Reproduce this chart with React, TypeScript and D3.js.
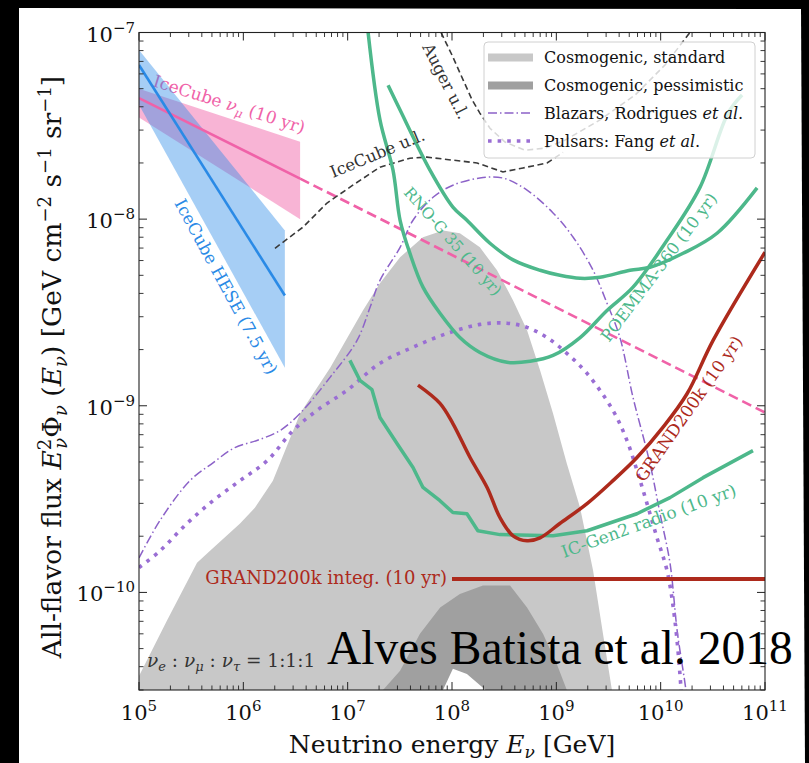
import React from "react";
import * as d3 from "d3";

type P = [number, number];

// ---------- data (E [GeV], E^2 Phi [GeV cm^-2 s^-1 sr^-1]) ----------
const cosmoStandard: P[] = [
  [1.0e5, 3.57e-11], [1.85e5, 7.05e-11], [3.6e5, 1.44e-10], [4.8e5, 1.67e-10],
  [9.3e5, 2.34e-10], [1.29e6, 2.84e-10], [1.92e6, 3.97e-10], [3.5e6, 9.1e-10],
  [6.8e6, 1.6e-9], [1.4e7, 3.24e-9], [2.04e7, 4.53e-9], [3.18e7, 6.25e-9],
  [5.27e7, 8.0e-9], [8.2e7, 8.7e-9], [1.19e8, 8.4e-9], [1.85e8, 7.06e-9],
  [2.7e8, 5.32e-9], [3.85e8, 3.67e-9], [5.24e8, 2.54e-9], [6.98e8, 1.55e-9],
  [9.3e8, 9.1e-10], [1.26e9, 4.9e-10], [1.69e9, 2.84e-10], [2.25e9, 1.31e-10],
  [2.8e9, 6.0e-11], [3.42e9, 2.97e-11],
];
const cosmoPessimistic: P[] = [
  [2.18e7, 3.0e-11], [3.18e7, 3.8e-11], [4.93e7, 6.0e-11], [7.7e7, 8.3e-11],
  [1.19e8, 9.8e-11], [1.98e8, 1.09e-10], [3.6e8, 1.09e-10], [5.24e8, 8.3e-11],
  [7.45e8, 6.0e-11], [1.01e9, 4.14e-11], [1.26e9, 3.0e-11],
];
const cosmoLowerBound: P[] = [
  [8.2e7, 3.0e-11], [1.02e8, 3.9e-11], [1.39e8, 3.66e-11], [1.98e8, 3.08e-11], [2.1e8, 3.0e-11],
];

const heseFit: P[] = [[1e5, 6.7e-8], [2.5e6, 3.9e-9]];
const heseUpper: P[] = [[1e5, 8.05e-8], [2.5e6, 8.7e-9]];
const heseLower: P[] = [[1e5, 4.1e-8], [2.5e6, 1.6e-9]];

const numuFit: P[] = [[1e5, 4.45e-8], [3.5e6, 1.65e-8]];
const numuExtrap: P[] = [[3.5e6, 1.65e-8], [1e11, 9.2e-10]];
const numuUpper: P[] = [[1e5, 5.0e-8], [3.5e6, 2.6e-8]];
const numuLower: P[] = [[1e5, 3.5e-8], [3.5e6, 1.0e-8]];

const icecubeUL: P[] = [
  [2.01e6, 6.98e-9], [3.73e6, 9.06e-9], [6.34e6, 1.22e-8], [1.12e7, 1.52e-8],
  [2.04e7, 1.9e-8], [3.95e7, 2.12e-8], [5.75e7, 2.15e-8], [1.02e8, 2.07e-8],
  [1.74e8, 2.0e-8], [3.08e8, 1.79e-8], [4.8e8, 1.88e-8], [8.15e8, 2.0e-8], [1.16e9, 2.28e-8],
];
const augerUL: P[] = [
  [7.85e7, 1.0e-7], [1.0e8, 7.57e-8], [1.28e8, 5.56e-8], [1.56e8, 4.35e-8],
  [1.85e8, 3.7e-8], [2.31e8, 3.07e-8], [3.22e8, 2.59e-8], [5.0e8, 2.34e-8],
  [7.78e8, 2.4e-8], [1.21e9, 2.65e-8], [2.62e9, 3.4e-8], [5.68e9, 4.62e-8],
  [1.1e10, 6.7e-8], [1.91e10, 1.0e-7],
];

const rnoG: P[] = [
  [2.44e7, 5.22e-8], [3.18e7, 3.84e-8], [6.15e7, 1.83e-8], [1.02e8, 1.16e-8],
  [1.39e8, 9.86e-9], [2.31e8, 7.43e-9], [3.85e8, 6.05e-9], [6.98e8, 5.32e-9],
  [1.08e9, 5.0e-9], [1.69e9, 4.82e-9], [2.62e9, 4.88e-9], [5.08e9, 5.32e-9],
  [7.9e9, 5.52e-9], [1.64e10, 6.56e-9], [3.47e10, 8.4e-9], [8.4e10, 1.47e-8],
];
const poemma: P[] = [
  [1.57e7, 1.0e-7], [2.04e7, 3.4e-8], [2.72e7, 1.83e-8], [3.18e7, 9.86e-9],
  [3.95e7, 6.56e-9], [5.27e7, 4.32e-9], [7.67e7, 3.13e-9], [1.19e8, 2.32e-9],
  [1.85e8, 1.93e-9], [3.37e8, 1.71e-9], [5.6e8, 1.73e-9], [9.3e8, 1.86e-9],
  [1.69e9, 2.32e-9], [3.06e9, 3.24e-9], [5.43e9, 4.32e-9], [1.15e10, 7.7e-9],
  [2.38e10, 1.48e-8], [4.43e10, 3.7e-8], [6.03e10, 4.62e-8],
];
const icGen2: P[] = [
  [1.05e7, 1.75e-9], [1.31e7, 1.37e-9], [1.71e7, 1.22e-9], [2.04e7, 8.65e-10],
  [2.97e7, 6.28e-10], [4.23e7, 4.67e-10], [5.27e7, 3.65e-10], [7.67e7, 3.1e-10],
  [1.02e8, 2.68e-10], [1.39e8, 2.64e-10], [1.77e8, 2.14e-10], [2.88e8, 2.04e-10],
  [9.3e8, 2.01e-10], [1.97e9, 2.14e-10], [5.93e9, 2.64e-10], [1.23e10, 3.22e-10],
  [2.55e10, 4.12e-10], [7.67e10, 5.75e-10],
];
const grand: P[] = [
  [4.72e7, 1.29e-9], [7.67e7, 1.03e-9], [1.02e8, 8.03e-10], [1.49e8, 5.28e-10],
  [2.17e8, 3.65e-10], [2.88e8, 2.52e-10], [3.85e8, 2.01e-10], [5.24e8, 1.89e-10],
  [6.98e8, 1.96e-10], [1.08e9, 2.34e-10], [1.97e9, 2.99e-10], [3.49e9, 3.97e-10],
  [5.93e9, 5.28e-10], [1.05e10, 7.66e-10], [1.79e10, 1.16e-9], [3.18e10, 2.24e-9],
  [1e11, 6.65e-9],
];
const grandInteg: P[] = [[1e8, 1.18e-10], [1e11, 1.18e-10]];

const blazars: P[] = [
  [1.0e5, 1.53e-10], [1.59e5, 2.43e-10], [3.08e5, 3.97e-10], [5.12e5, 4.95e-10],
  [8.3e5, 5.97e-10], [1.35e6, 6.52e-10], [2.24e6, 7.36e-10], [3.49e6, 9.1e-10],
  [6.78e6, 1.42e-9], [1.23e7, 2.24e-9], [1.64e7, 3.37e-9], [2.04e7, 4.7e-9],
  [3.18e7, 7.06e-9], [4.23e7, 9.86e-9], [6.58e7, 1.31e-8], [1.02e8, 1.52e-8],
  [1.85e8, 1.66e-8], [3.08e8, 1.66e-8], [5.24e8, 1.43e-8], [9.3e8, 1.08e-8],
  [1.45e9, 8.0e-9], [2.25e9, 5.32e-9], [3.06e9, 3.54e-9], [4.07e9, 2.32e-9],
  [5.43e9, 1.11e-9], [7.9e9, 4.9e-10], [9.86e9, 2.64e-10], [1.23e10, 1.43e-10],
  [1.44e10, 6.22e-11], [1.75e10, 2.97e-11], [1.85e10, 2.2e-11],
];
const pulsars: P[] = [
  [1.0e5, 1.36e-10], [1.59e5, 1.67e-10], [2.88e5, 2.34e-10], [5.12e5, 3.1e-10],
  [9.3e5, 3.97e-10], [1.69e6, 5.08e-10], [2.99e6, 7.36e-10], [5.08e6, 9.44e-10],
  [9.86e6, 1.21e-9], [2.04e7, 1.69e-9], [4.23e7, 2.06e-9], [8.95e7, 2.44e-9],
  [1.85e8, 2.73e-9], [3.37e8, 2.77e-9], [5.24e8, 2.63e-9], [8.15e8, 2.32e-9],
  [1.26e9, 1.91e-9], [1.97e9, 1.49e-9], [3.49e9, 9.44e-10], [4.75e9, 6.52e-10],
  [5.93e9, 4.5e-10], [7.4e9, 2.99e-10], [9.23e9, 1.96e-10], [1.15e10, 1.31e-10],
  [1.37e10, 7.05e-11], [1.57e10, 3.0e-11], [1.62e10, 2.2e-11],
];

const xTickExps = [5, 6, 7, 8, 9, 10, 11];
const yTickExps = [-10, -9, -8, -7];
const legendLabels = ["Cosmogenic, standard", "Cosmogenic, pessimistic", "Blazars, Rodrigues ", "Pulsars: Fang "];

// ---------- styles ----------
const C = {
  gray: "#c8c8c8",
  grayDark: "#a0a0a0",
  blue: "#2a8ae6",
  pink: "#f062a8",
  green: "#4db88b",
  red: "#ad2a1c",
  purple: "#8c62c8",
  purpleDot: "#9a6ed4",
  dash: "#3a3a3a",
};
const SERIF = "'DejaVu Serif', serif";

export default function App() {
  const W = 809, H = 763;
  const L = 139, R = 765, T = 32.5, B = 690;
  const x = d3.scaleLog().domain([1e5, 1e11]).range([L, R]);
  const y = d3.scaleLog().domain([3e-11, 1e-7]).range([B, T]);

  const line = d3.line<P>().x(d => x(d[0])).y(d => y(d[1]));
  const smooth = d3.line<P>().x(d => x(d[0])).y(d => y(d[1])).curve(d3.curveCatmullRom.alpha(0.5));
  const area = d3.area<P>().x(d => x(d[0])).y0(B).y1(d => y(d[1])).curve(d3.curveLinear);
  const band = (up: P[], lo: P[]) => (line(up.concat([...lo].reverse())) || "") + "Z";

  const xMinor = x.ticks().filter(v => !xTickExps.some(e => Math.abs(v - Math.pow(10, e)) / v < 1e-6));
  const yMinor = y.ticks().filter(v => !yTickExps.some(e => Math.abs(v - Math.pow(10, e)) / v < 1e-6));

  const lab = (px: number, py: number, a: number) => `translate(${px},${py}) rotate(${a})`;

  return (
    <svg width={W} height={H} style={{ position: "absolute", left: 0, top: 0, display: "block" }}
      xmlns="http://www.w3.org/2000/svg">
      <rect x={0} y={0} width={W} height={H} fill="#000" />
      <polygon points="19,8 801,9 805,763 19,763" fill="#fff" />
      <defs>
        <clipPath id="plotclip">
          <rect x={L} y={T} width={R - L} height={B - T} />
        </clipPath>
      </defs>

      <g clipPath="url(#plotclip)">
        <path d={area(cosmoStandard) || ""} fill={C.gray} />
        <path d={area(cosmoPessimistic) || ""} fill={C.grayDark} />
        <path d={area(cosmoLowerBound) || ""} fill="#fff" />

        {/* IceCube numu band + label (under HESE band) */}
        <path d={band(numuUpper, numuLower)} fill={C.pink} fillOpacity={0.48} />
        <text transform={lab(152, 86, 17.5)} fontFamily={SERIF} fontSize={17} fill={C.pink}>
          IceCube <tspan fontStyle="italic">ν</tspan><tspan fontSize={12} fontStyle="italic" dy={4}>μ</tspan><tspan dy={-4}> (10 yr)</tspan>
        </text>
        <path d={band(heseUpper, heseLower)} fill={C.blue} fillOpacity={0.42} />

        <path d={line(numuFit) || ""} fill="none" stroke={C.pink} strokeWidth={2.6} />
        <path d={line(numuExtrap) || ""} fill="none" stroke={C.pink} strokeWidth={2.6} strokeDasharray="10,5" />
        <path d={line(heseFit) || ""} fill="none" stroke={C.blue} strokeWidth={2.6} />

        <path d={line(icecubeUL) || ""} fill="none" stroke={C.dash} strokeWidth={1.6} strokeDasharray="6,3.5" />
        <path d={line(augerUL) || ""} fill="none" stroke={C.dash} strokeWidth={1.6} strokeDasharray="6,3.5" />

        <path d={smooth(blazars) || ""} fill="none" stroke={C.purple} strokeWidth={1.5} strokeDasharray="9,3,1.5,3" />
        <path d={smooth(pulsars) || ""} fill="none" stroke={C.purpleDot} strokeWidth={3.6} strokeDasharray="3.6,6" />

        <path d={smooth(rnoG) || ""} fill="none" stroke={C.green} strokeWidth={3.5} strokeLinejoin="round" />
        <path d={smooth(poemma) || ""} fill="none" stroke={C.green} strokeWidth={3.5} strokeLinejoin="round" />
        <path d={line(icGen2) || ""} fill="none" stroke={C.green} strokeWidth={3.5} strokeLinejoin="round" />
        <path d={smooth(grand) || ""} fill="none" stroke={C.red} strokeWidth={3.5} strokeLinejoin="round" />
        <path d={line(grandInteg) || ""} fill="none" stroke={C.red} strokeWidth={4} />
      </g>

      {/* curve labels */}
      <text transform={lab(174, 203, 61.5)} fontFamily={SERIF} fontSize={17} fill={C.blue}>IceCube HESE (7.5 yr)</text>
      <text transform={lab(333, 178, -22.5)} fontFamily={SERIF} fontSize={16.5} fill="#333">IceCube u.l.</text>
      <text transform={lab(422, 47, 63)} fontFamily={SERIF} fontSize={16.5} fill="#333">Auger u.l.</text>
      <text transform={lab(403, 193, 48.5)} fontFamily={SERIF} fontSize={15.5} fill={C.green}>RNO-G 35 (10 yr)</text>
      <text transform={lab(609, 343, -53)} fontFamily={SERIF} fontSize={16.5} fill={C.green}>POEMMA-360 (10 yr)</text>
      <text transform={lab(644, 483, -55)} fontFamily={SERIF} fontSize={17} fill={C.red}>GRAND200k (10 yr)</text>
      <text transform={lab(564, 558, -20)} fontFamily={SERIF} fontSize={17} fill={C.green}>IC-Gen2 radio (10 yr)</text>
      <text x={447} y={584} textAnchor="end" fontFamily={SERIF} fontSize={18} fill={C.red}>GRAND200k integ. (10 yr)</text>
      <text x={147} y={667} fontFamily={SERIF} fontSize={18.5} fill="#333">
        <tspan fontStyle="italic">ν</tspan><tspan fontSize={13} fontStyle="italic" dy={4}>e</tspan>
        <tspan dy={-4}> : </tspan><tspan fontStyle="italic">ν</tspan><tspan fontSize={13} fontStyle="italic" dy={4}>μ</tspan>
        <tspan dy={-4}> : </tspan><tspan fontStyle="italic">ν</tspan><tspan fontSize={13} fontStyle="italic" dy={4}>τ</tspan>
        <tspan dy={-4}> = 1:1:1</tspan>
      </text>

      {/* legend */}
      <g>
        <rect x={484} y={42} width={271} height={116} rx={4} fill="#fff" fillOpacity={0.8} stroke="#d0d0d0" strokeWidth={1} />
        <rect x={488} y={53.5} width={45} height={8} fill={C.gray} />
        <rect x={488} y={81.5} width={45} height={8} fill={C.grayDark} />
        <line x1={488} x2={533} y1={113} y2={113} stroke={C.purple} strokeWidth={1.5} strokeDasharray="9,3,1.5,3" />
        <line x1={488} x2={533} y1={141} y2={141} stroke={C.purpleDot} strokeWidth={3.6} strokeDasharray="3.6,6" />
        <text x={544} y={63} fontFamily={SERIF} fontSize={16} fill="#111">{legendLabels[0]}</text>
        <text x={544} y={91} fontFamily={SERIF} fontSize={16} fill="#111">{legendLabels[1]}</text>
        <text x={544} y={119} fontFamily={SERIF} fontSize={16} fill="#111">{legendLabels[2]}<tspan fontStyle="italic">et al</tspan>.</text>
        <text x={544} y={147} fontFamily={SERIF} fontSize={16} fill="#111">{legendLabels[3]}<tspan fontStyle="italic">et al</tspan>.</text>
      </g>

      {/* axes frame & ticks */}
      <rect x={L} y={T} width={R - L} height={B - T} fill="none" stroke="#222" strokeWidth={1.1} />
      {xTickExps.map(e => {
        const px = x(Math.pow(10, e));
        return (
          <g key={"xm" + e}>
            <line x1={px} x2={px} y1={B} y2={B - 8} stroke="#222" strokeWidth={1} />
            <line x1={px} x2={px} y1={T} y2={T + 8} stroke="#222" strokeWidth={1} />
            <text x={px} y={720} textAnchor="middle" fontFamily={SERIF} fontSize={21} fill="#111">
              10<tspan fontSize={15} dy={-9}>{e}</tspan>
            </text>
          </g>
        );
      })}
      {xMinor.map((v, i) => (
        <g key={"xn" + i}>
          <line x1={x(v)} x2={x(v)} y1={B} y2={B - 4.5} stroke="#222" strokeWidth={0.9} />
          <line x1={x(v)} x2={x(v)} y1={T} y2={T + 4.5} stroke="#222" strokeWidth={0.9} />
        </g>
      ))}
      {yTickExps.map(e => {
        const py = y(Math.pow(10, e));
        return (
          <g key={"ym" + e}>
            <line x1={L} x2={L + 8} y1={py} y2={py} stroke="#222" strokeWidth={1} />
            <line x1={R} x2={R - 8} y1={py} y2={py} stroke="#222" strokeWidth={1} />
            <text x={135} y={py + 9} textAnchor="end" fontFamily={SERIF} fontSize={21} fill="#111">
              10<tspan fontSize={15} dy={-9}>{"−" + Math.abs(e)}</tspan>
            </text>
          </g>
        );
      })}
      {yMinor.map((v, i) => (
        <g key={"yn" + i}>
          <line x1={L} x2={L + 4.5} y1={y(v)} y2={y(v)} stroke="#222" strokeWidth={0.9} />
          <line x1={R} x2={R - 4.5} y1={y(v)} y2={y(v)} stroke="#222" strokeWidth={0.9} />
        </g>
      ))}

      {/* axis labels */}
      <text x={452} y={753} textAnchor="middle" fontFamily={SERIF} fontSize={25} fill="#111">
        Neutrino energy <tspan fontStyle="italic">E</tspan><tspan fontSize={17} fontStyle="italic" dy={5}>ν</tspan><tspan dy={-5}> [GeV]</tspan>
      </text>
      <text transform="translate(61,367) rotate(-90)" textAnchor="middle" fontFamily={SERIF} fontSize={26.5} fill="#111">
        All-flavor flux <tspan fontStyle="italic">E</tspan>
        <tspan fontSize={18} dy={-10}>2</tspan>
        <tspan fontSize={18} fontStyle="italic" dx={-10} dy={16}>ν</tspan>
        <tspan dy={-6}>Φ</tspan>
        <tspan fontSize={18} fontStyle="italic" dy={6}>ν</tspan>
        <tspan dy={-6}> (</tspan><tspan fontStyle="italic">E</tspan>
        <tspan fontSize={18} fontStyle="italic" dy={6}>ν</tspan>
        <tspan dy={-6}>) [GeV cm</tspan>
        <tspan fontSize={18} dy={-10}>−2</tspan>
        <tspan dy={10}> s</tspan>
        <tspan fontSize={18} dy={-10}>−1</tspan>
        <tspan dy={10}> sr</tspan>
        <tspan fontSize={18} dy={-10}>−1</tspan>
        <tspan dy={10}>]</tspan>
      </text>

      {/* overlay title */}
      <text x={327} y={664} fontFamily="'Liberation Serif', 'Times New Roman', serif" fontSize={47.5} fill="#000">
        Alves Batista et al. 2018
      </text>
    </svg>
  );
}
